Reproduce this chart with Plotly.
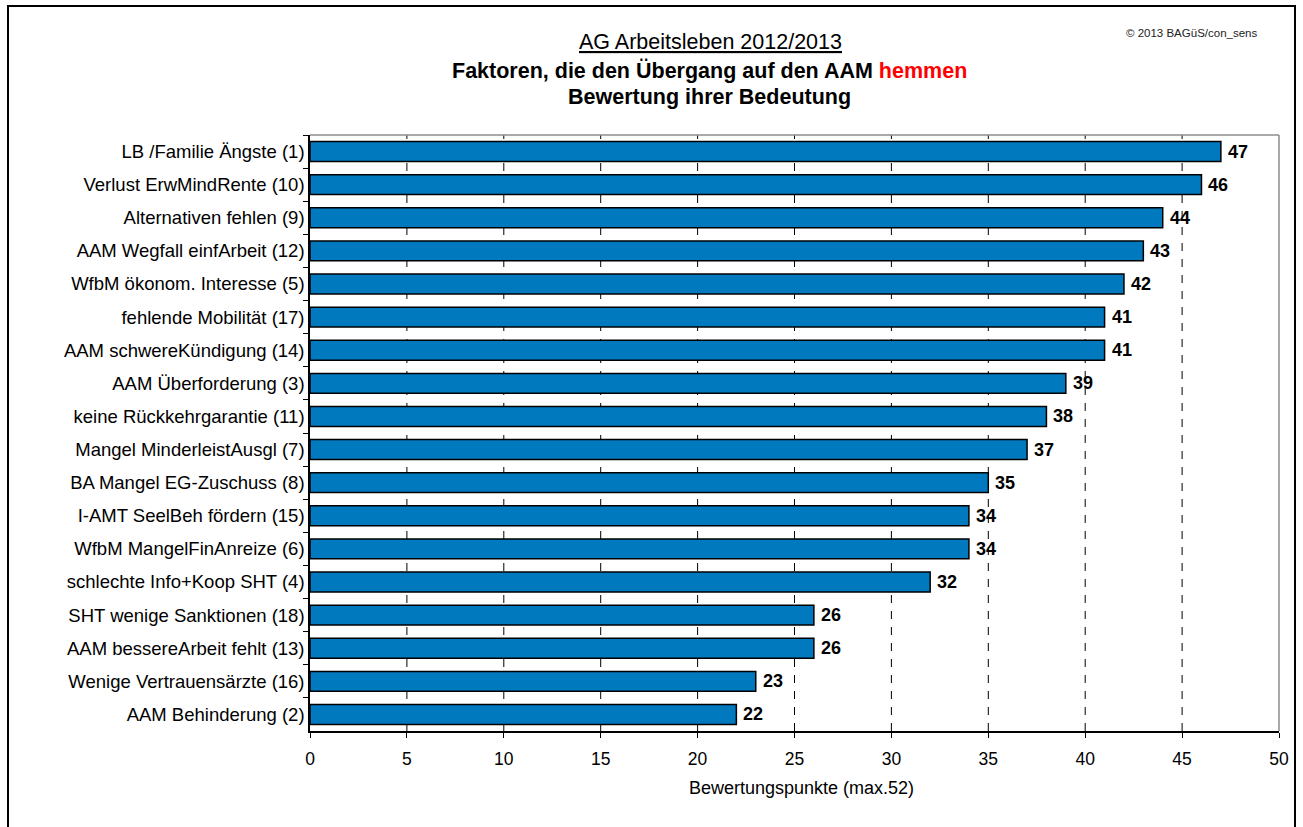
import plotly.graph_objects as go

# Factors and their rating points (top to bottom)
factors = [
    "LB /Familie Ängste (1)",
    "Verlust ErwMindRente (10)",
    "Alternativen fehlen (9)",
    "AAM Wegfall einfArbeit (12)",
    "WfbM ökonom. Interesse (5)",
    "fehlende Mobilität (17)",
    "AAM schwereKündigung (14)",
    "AAM Überforderung (3)",
    "keine Rückkehrgarantie (11)",
    "Mangel MinderleistAusgl (7)",
    "BA Mangel EG-Zuschuss (8)",
    "I-AMT SeelBeh fördern (15)",
    "WfbM MangelFinAnreize (6)",
    "schlechte Info+Koop SHT (4)",
    "SHT wenige Sanktionen (18)",
    "AAM bessereArbeit fehlt (13)",
    "Wenige Vertrauensärzte (16)",
    "AAM Behinderung (2)",
]
points = [47, 46, 44, 43, 42, 41, 41, 39, 38, 37, 35, 34, 34, 32, 26, 26, 23, 22]
x_ticks = [0, 5, 10, 15, 20, 25, 30, 35, 40, 45, 50]

W, H = 1303, 827
PL, PR, PT, PB = 310, 1279, 135, 731  # plot area in pixels
FONT = "Arial, Liberation Sans, sans-serif"


def px_x(p):
    return (p - PL) / (PR - PL)


def px_y(p):
    return (PB - p) / (PB - PT)


fig = go.Figure()
fig.add_trace(go.Bar(
    y=factors,
    x=points,
    orientation="h",
    marker=dict(color="#0079BF", line=dict(color="black", width=1.5)),
    width=0.6,
))

shapes = []
# dashed vertical gridlines
for v in x_ticks[1:-1]:
    shapes.append(dict(type="line", xref="x", yref="paper", x0=v, x1=v, y0=0, y1=1,
                       line=dict(color="black", width=1, dash="8px,8px"), layer="below"))
# grey top/right border of the plot area
shapes.append(dict(type="line", xref="paper", yref="paper", x0=0, x1=1, y0=1, y1=1,
                   line=dict(color="#8c8c8c", width=1.5)))
shapes.append(dict(type="line", xref="paper", yref="paper", x0=1, x1=1, y0=0, y1=1,
                   line=dict(color="#8c8c8c", width=1.5)))
# outer chart frame
shapes.append(dict(type="rect", xref="paper", yref="paper",
                   x0=px_x(8), x1=px_x(1295), y0=px_y(840), y1=px_y(6),
                   line=dict(color="black", width=2)))

annotations = [
    dict(text="<u>AG Arbeitsleben 2012/2013</u>", x=px_x(710), y=px_y(42),
         font=dict(family=FONT, size=21.5, color="black")),
    dict(text="<b>Faktoren, die den Übergang auf den AAM "
              "<span style='color:#ff0000'>hemmen</span></b>",
         x=px_x(709), y=px_y(71), font=dict(family=FONT, size=21.5, color="black")),
    dict(text="<b>Bewertung ihrer Bedeutung</b>", x=px_x(709), y=px_y(97),
         font=dict(family=FONT, size=21.5, color="black")),
    dict(text="© 2013 BAGüS/con_sens", x=px_x(1191), y=px_y(33),
         font=dict(family=FONT, size=11.5, color="#222222")),
    dict(text="Bewertungspunkte (max.52)", x=px_x(801), y=px_y(788),
         font=dict(family=FONT, size=18, color="black")),
]
for a in annotations:
    a.update(xref="paper", yref="paper", showarrow=False, xanchor="center", yanchor="middle")

# value labels to the right of each bar
for cat, val in zip(factors, points):
    annotations.append(dict(
        x=val, y=cat, xref="x", yref="y", text=f"<b>{val}</b>", showarrow=False,
        xanchor="left", yanchor="middle", xshift=5,
        font=dict(family=FONT, size=18, color="black"),
    ))

fig.update_layout(
    width=W, height=H,
    margin=dict(l=PL, r=W - PR, t=PT, b=H - PB, pad=0),
    paper_bgcolor="white", plot_bgcolor="white",
    showlegend=False,
    bargap=0.4,
    shapes=shapes,
    annotations=annotations,
    xaxis=dict(
        range=[0, 50], tickvals=x_ticks, showgrid=False, zeroline=False,
        showline=True, linecolor="black", linewidth=1.5,
        ticks="outside", ticklen=5, tickcolor="black", tickwidth=1,
        ticklabelstandoff=6,
        tickfont=dict(family=FONT, size=17.5, color="black"),
    ),
    yaxis=dict(
        type="category", categoryorder="array", categoryarray=factors,
        autorange="reversed", tickson="boundaries",
        showgrid=False, zeroline=False,
        showline=True, linecolor="black", linewidth=1.5,
        ticks="outside", ticklen=5, tickcolor="black", tickwidth=1,
        tickfont=dict(family=FONT, size=18.5, color="black"),
    ),
)

fig.write_html("out.html")
